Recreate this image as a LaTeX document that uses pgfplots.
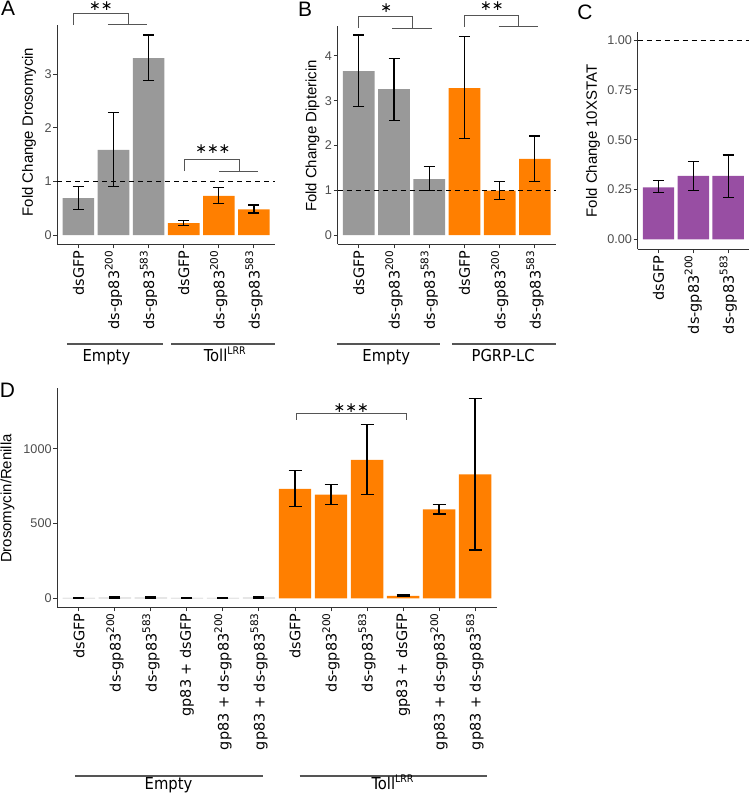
\documentclass[border=0pt]{standalone}
\usepackage{fontspec}
\setmainfont{Liberation Sans}
\newfontfamily\dvs{DejaVu Sans}
\newfontfamily\dvsc{DejaVu Sans Condensed}
\usepackage{pgfplots}
\pgfplotsset{compat=1.18}

\definecolor{bargray}{HTML}{999999}
\definecolor{barorange}{HTML}{FF7F00}
\definecolor{barpurple}{HTML}{984EA3}
\definecolor{axisgray}{HTML}{333333}
\definecolor{ticktext}{HTML}{4D4D4D}
\definecolor{brk}{HTML}{555555}

\newcommand\sups[1]{\raisebox{0.45em}{\fontsize{10.5}{10.5}\selectfont #1}}
\newcommand\grp{\dvsc\fontsize{16.5}{16.5}\selectfont}
\newcommand\stars{\dvs\fontsize{14}{14}\selectfont}

\tikzset{
  bracket/.style={brk, line width=1bp},
  grpline/.style={brk, line width=1.3bp},
  grptext/.style={font=\grp, inner sep=0pt, anchor=base},
}
\pgfplotsset{
  gg/.style={
    scale only axis, clip=false,
    axis x line*=bottom, axis y line*=left,
    axis line style={line width=1.2bp, axisgray},
    tick align=outside, major tick length=4bp,
    tick style={line width=1bp, axisgray},
    yticklabel style={font=\fontsize{12.7}{12.7}\selectfont, text=ticktext, inner sep=1.5bp},
    xticklabel style={font=\dvs\fontsize{14.5}{14.5}\selectfont, rotate=90, anchor=east, inner sep=2bp},
  },
  bars/.style 2 args={ybar, bar width=0.9, bar shift=0pt, draw=none, fill=#1,
    error bars/.cd, y dir=both, y explicit,
    error bar style={line width=1.2bp, black},
    error mark options={rotate=90, mark size=#2, line width=1.2bp, black}},
  refline/.style={black, line width=1.1bp, dash pattern=on 5bp off 4bp},
}

\begin{document}
\begin{tikzpicture}
\path[use as bounding box] (0,0) rectangle (750bp,797bp);

% ---- A
\begin{axis}[gg, at={(57.3bp,552.5bp)}, anchor=south west,
  width=217.7bp, height=219.5bp,
  xmin=0.4, xmax=6.6, ymin=-0.177, ymax=3.918,
  xtick={1,...,6}, ytick={0,1,2,3}, yticklabels={0,1,2,3},
  xticklabels={dsGFP, ds-gp83\sups{200}, ds-gp83\sups{583},
               dsGFP, ds-gp83\sups{200}, ds-gp83\sups{583}}]
  \addplot[bars={bargray}{5.5bp}] coordinates {
    (1,0.69) += (0,0.21) -= (0,0.21)
    (2,1.59) += (0,0.69) -= (0,0.69)
    (3,3.30) += (0,0.43) -= (0,0.42)};
  \addplot[bars={barorange}{5.5bp}] coordinates {
    (4,0.22) += (0,0.05) -= (0,0.04)
    (5,0.73) += (0,0.15) -= (0,0.14)
    (6,0.48) += (0,0.08) -= (0,0.07)};
  \addplot[refline] coordinates {(0.4,1) (6.6,1)};
  \draw[bracket] (axis cs:0.86,3.92) -- (axis cs:0.86,4.14) -- (axis cs:2.42,4.14) -- (axis cs:2.42,3.92);
  \draw[bracket] (axis cs:1.84,3.92) -- (axis cs:2.95,3.92);
  \node[font=\stars] at (axis cs:1.64,4.27) {∗∗};
  \draw[bracket] (axis cs:4.02,1.19) -- (axis cs:4.02,1.41) -- (axis cs:5.58,1.41) -- (axis cs:5.58,1.19);
  \draw[bracket] (axis cs:5.01,1.19) -- (axis cs:6.13,1.19);
  \node[font=\stars] at (axis cs:4.83,1.60) {∗∗∗};
  \draw[grpline] (axis cs:0.67,-2.034) -- (axis cs:3.41,-2.034);
  \draw[grpline] (axis cs:3.65,-2.034) -- (axis cs:6.6,-2.034);
  \node[grptext] at (axis cs:1.8,-2.36) {Empty};
  \node[grptext] at (axis cs:5.17,-2.36) {Toll\sups{LRR}};
\end{axis}

% ---- B
\begin{axis}[gg, at={(337.7bp,552.5bp)}, anchor=south west,
  width=218.3bp, height=218.5bp,
  xmin=0.4, xmax=6.6, ymin=-0.212, ymax=4.67,
  xtick={1,...,6}, ytick={0,1,2,3,4}, yticklabels={0,1,2,3,4},
  xticklabels={dsGFP, ds-gp83\sups{200}, ds-gp83\sups{583},
               dsGFP, ds-gp83\sups{200}, ds-gp83\sups{583}}]
  \addplot[bars={bargray}{5.5bp}] coordinates {
    (1,3.66) += (0,0.81) -= (0,0.79)
    (2,3.26) += (0,0.69) -= (0,0.71)
    (3,1.25) += (0,0.28) -= (0,0.26)};
  \addplot[bars={barorange}{5.5bp}] coordinates {
    (4,3.28) += (0,1.15) -= (0,1.12)
    (5,0.99) += (0,0.20) -= (0,0.19)
    (6,1.70) += (0,0.51) -= (0,0.51)};
  \addplot[refline] coordinates {(0.4,1) (6.6,1)};
  \draw[bracket] (axis cs:1,4.62) -- (axis cs:1,4.89) -- (axis cs:2.53,4.89) -- (axis cs:2.53,4.62);
  \draw[bracket] (axis cs:1.95,4.62) -- (axis cs:3.07,4.62);
  \node[font=\stars] at (axis cs:1.78,5.07) {∗};
  \draw[bracket] (axis cs:4,4.65) -- (axis cs:4,4.90) -- (axis cs:5.54,4.90) -- (axis cs:5.54,4.65);
  \draw[bracket] (axis cs:4.97,4.65) -- (axis cs:6.09,4.65);
  \node[font=\stars] at (axis cs:4.78,5.12) {∗∗};
  \draw[grpline] (axis cs:0.38,-2.436) -- (axis cs:3.3,-2.436);
  \draw[grpline] (axis cs:3.64,-2.436) -- (axis cs:6.6,-2.436);
  \node[grptext] at (axis cs:1.78,-2.827) {Empty};
  \node[grptext] at (axis cs:5.1,-2.827) {PGRP-LC};
\end{axis}

% ---- C
\begin{axis}[gg, at={(637.7bp,547.7bp)}, anchor=south west,
  width=111.3bp, height=217.6bp,
  xmin=0.4, xmax=3.6, ymin=-0.05, ymax=1.042,
  xtick={1,2,3}, ytick={0,0.25,0.5,0.75,1},
  yticklabels={0.00,0.25,0.50,0.75,1.00},
  xticklabels={dsGFP, ds-gp83\sups{200}, ds-gp83\sups{583}}]
  \addplot[bars={barpurple}{5.5bp}] coordinates {
    (1,0.261) += (0,0.033) -= (0,0.027)
    (2,0.318) += (0,0.072) -= (0,0.074)
    (3,0.318) += (0,0.105) -= (0,0.107)};
  \addplot[refline] coordinates {(0.4,1) (3.6,1)};
\end{axis}

% ---- D
\begin{axis}[gg, at={(57.3bp,189.7bp)}, anchor=south west,
  width=439.4bp, height=219.3bp,
  xmin=0.4, xmax=12.6, ymin=-60.3, ymax=1408,
  xtick={1,...,12}, ytick={0,500,1000}, yticklabels={0,500,1000},
  xticklabels={dsGFP, ds-gp83\sups{200}, ds-gp83\sups{583},
    gp83 + dsGFP, gp83 + ds-gp83\sups{200}, gp83 + ds-gp83\sups{583},
    dsGFP, ds-gp83\sups{200}, ds-gp83\sups{583},
    gp83 + dsGFP, gp83 + ds-gp83\sups{200}, gp83 + ds-gp83\sups{583}}]
  \addplot[bars={bargray!70}{5.5bp}] coordinates {
    (1,3) += (0,4) -= (0,4)
    (2,4) += (0,4) -= (0,4)
    (3,4) += (0,4) -= (0,4)
    (4,2) += (0,4) -= (0,4)
    (5,3) += (0,4) -= (0,4)
    (6,4) += (0,4) -= (0,4)};
  \addplot[bars={barorange}{6.5bp}] coordinates {
    (7,732) += (0,123) -= (0,118)
    (8,694) += (0,69) -= (0,67)
    (9,926) += (0,235) -= (0,232)
    (10,17) += (0,5) -= (0,5)
    (11,596) += (0,33) -= (0,31)
    (12,830) += (0,507) -= (0,507)};
  \draw[bracket] (axis cs:7.03,1194) -- (axis cs:7.03,1239) -- (axis cs:10.1,1239) -- (axis cs:10.1,1194);
  \node[font=\stars] at (axis cs:8.56,1273) {∗∗∗};
  \draw[grpline] (axis cs:0.89,-1190) -- (axis cs:6.1,-1190);
  \draw[grpline] (axis cs:7.13,-1190) -- (axis cs:12.34,-1190);
  \node[grptext] at (axis cs:3.49,-1282) {Empty};
  \node[grptext] at (axis cs:9.71,-1282) {Toll\sups{LRR}};
\end{axis}

% axis titles and panel letters
\node[rotate=90, font=\fontsize{15}{15}\selectfont] at (29bp,665bp) {Fold Change Drosomycin};
\node[rotate=90, font=\fontsize{15}{15}\selectfont] at (312.5bp,661bp) {Fold Change Diptericin};
\node[rotate=90, font=\fontsize{15}{15}\selectfont] at (593bp,656bp) {Fold Change 10XSTAT};
\node[rotate=90, font=\fontsize{15}{15}\selectfont] at (7.5bp,298.5bp) {Drosomycin/Renilla};
\node[font=\fontsize{21}{21}\selectfont, inner sep=0pt] at (8bp,789bp) {A};
\node[font=\fontsize{21}{21}\selectfont, inner sep=0pt] at (305bp,787.5bp) {B};
\node[font=\fontsize{21}{21}\selectfont, inner sep=0pt] at (585bp,785bp) {C};
\node[font=\fontsize{21}{21}\selectfont, inner sep=0pt] at (7.5bp,407bp) {D};
\end{tikzpicture}
\end{document}
